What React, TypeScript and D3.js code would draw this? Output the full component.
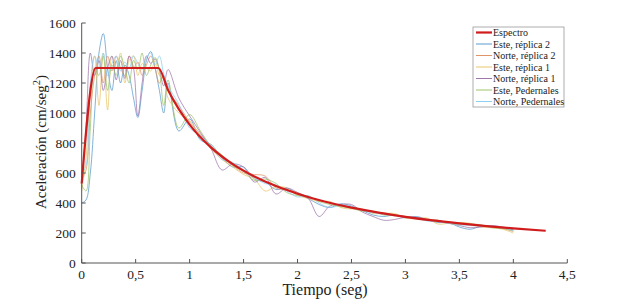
import React from "react";
import * as d3 from "d3";

const T = [0,0.04,0.08,0.12,0.16,0.20,0.24,0.28,0.32,0.36,0.40,0.44,0.48,0.52,0.56,0.60,0.64,0.68,0.72,0.76,0.80,
  0.9,1.0,1.1,1.2,1.3,1.4,1.5,1.6,1.7,1.8,1.9,2.0,2.1,2.2,2.3,2.4,2.5,2.6,2.7,2.8,2.9,3.0,3.1,3.2,3.3,3.4,3.5,3.6,3.7,3.8,3.9,4.0];

const esteR2 = [400,420,600,1000,1400,1530,1300,1150,1350,1200,1320,1250,1100,970,1150,1350,1410,1300,1150,1000,1200,
  880,960,820,790,700,640,640,560,540,490,500,460,430,390,370,395,380,350,320,310,320,300,310,290,270,270,240,225,245,240,235,220];
const norteR2 = [560,620,1000,1250,1380,1200,1380,1280,1380,1300,1250,1380,1300,1340,1250,1320,1380,1300,1200,1250,1150,
  1050,940,860,780,700,650,600,590,580,500,490,470,440,420,400,380,370,350,340,335,320,310,300,290,285,270,265,260,250,240,230,210];
const esteR1 = [480,700,1150,1380,1050,1400,1020,1380,1300,1400,1200,1350,1380,1250,1330,1300,1280,1350,1250,1230,1100,
  1000,950,850,760,690,640,590,560,480,510,500,450,430,410,410,370,360,360,330,330,330,300,295,300,260,265,270,265,240,235,225,200];
const norteR1 = [550,900,1400,1250,1350,1150,1300,1380,1220,1350,1230,1380,1300,980,1200,1380,1330,1360,1290,1180,1290,
  1100,980,870,760,620,660,640,540,570,460,500,470,430,310,380,390,390,340,310,285,290,305,305,290,275,265,250,235,240,250,240,225];
const esteP = [520,480,900,1300,1250,1380,1150,1320,1250,1380,1300,1200,1350,1290,1400,1250,1320,1370,1280,1050,1220,
  900,990,880,780,720,650,610,550,560,530,470,450,445,410,390,375,365,345,345,320,320,310,295,285,285,265,255,260,255,235,230,215];
const norteP = [600,650,1200,1380,1300,1400,1250,1330,1380,1280,1340,1300,1380,1330,1290,1370,1400,1320,1380,1260,1180,
  1060,900,850,780,690,670,620,570,530,520,480,440,450,400,370,385,375,350,335,325,315,310,300,280,275,265,255,250,245,245,235,215];

const specT = [0,0.13,0.71,0.8,0.9,1.0,1.2,1.4,1.6,1.8,2.0,2.25,2.5,2.75,3.0,3.25,3.5,3.75,4.0,4.3];
const specV = [530,1300,1300,1154,1026,923,769,659,577,513,462,410,369,336,308,284,264,246,231,215];

const seriesNames = ["Este, réplica 2","Norte, réplica 2","Este, réplica 1","Norte, réplica 1","Este, Pedernales","Norte, Pedernales"];
const seriesVals = [esteR2, norteR2, esteR1, norteR1, esteP, norteP];
const seriesColors = ["#5a9bcc","#e0946a","#e8c66a","#a077ad","#9cc46c","#8fd0ee"];

const xTicks = [0,0.5,1,1.5,2,2.5,3,3.5,4,4.5];
const yTicks = [0,200,400,600,800,1000,1200,1400,1600];

export default function App() {
  const W = 627, H = 302;
  const x = d3.scaleLinear().domain([0, 4.5]).range([81.7, 567.3]);
  const y = d3.scaleLinear().domain([0, 1600]).range([263, 23]);
  const line = d3.line<[number, number]>().x(d => x(d[0])).y(d => y(d[1])).curve(d3.curveCatmullRom.alpha(0.5));
  const specLine = d3.line<[number, number]>().x(d => x(d[0])).y(d => y(d[1])).curve(d3.curveMonotoneX);
  const fmt = (v: number) => String(v).replace(".", ",");
  const axisColor = "#555";
  const font = "'Liberation Serif', 'Times New Roman', serif";
  const legX = 473, legY = 27, legW = 91, legH = 80, rowH = 11.5;
  const legItems = [{ name: "Espectro", color: "#d01c1c", w: 2.2 }, ...seriesNames.map((n, i) => ({ name: n, color: seriesColors[i], w: 1 }))];
  return (
    <svg width={W} height={H} style={{ position: "absolute", left: 0, top: 0, background: "#fff" }} fontFamily={font}>
      <rect width={W} height={H} fill="#fff" />
      {seriesVals.map((vals, i) => (
        <path key={i} d={line(T.map((t, j) => [t, vals[j]] as [number, number])) || ""} fill="none" stroke={seriesColors[i]} strokeWidth={0.9} strokeOpacity={0.85} />
      ))}
      <path d={specLine(specT.map((t, j) => [t, specV[j]] as [number, number])) || ""} fill="none" stroke="#d01c1c" strokeWidth={2.2} />
      <line x1={x(0)} x2={x(0)} y1={y(1600)} y2={y(0)} stroke={axisColor} strokeWidth={1} />
      <line x1={x(0)} x2={x(4.5)} y1={y(0)} y2={y(0)} stroke={axisColor} strokeWidth={1} />
      {xTicks.map(t => (
        <g key={"x" + t}>
          <line x1={x(t)} x2={x(t)} y1={y(0)} y2={y(0) - 4} stroke={axisColor} />
          <text x={x(t)} y={y(0) + 16} textAnchor="middle" fontSize={13.5} fill="#222">{fmt(t)}</text>
        </g>
      ))}
      {yTicks.map(t => (
        <g key={"y" + t}>
          <line x1={x(0)} x2={x(0) + 4} y1={y(t)} y2={y(t)} stroke={axisColor} />
          <text x={x(0) - 6} y={y(t) + 4.5} textAnchor="end" fontSize={13.5} fill="#222">{t}</text>
        </g>
      ))}
      <text x={325} y={295} textAnchor="middle" fontSize={16} fill="#222">Tiempo (seg)</text>
      <text transform={`translate(45.5,142) rotate(-90)`} textAnchor="middle" fontSize={15} fill="#222">
        Aceleración (cm/seg<tspan dy={-6} fontSize={10.5}>2</tspan><tspan dy={6}>)</tspan>
      </text>
      <rect x={legX} y={legY} width={legW} height={legH} fill="#fff" stroke="#999" strokeWidth={0.8} />
      {legItems.map((it, i) => (
        <g key={it.name}>
          <line x1={legX + 3} x2={legX + 19} y1={legY + 5.5 + i * rowH} y2={legY + 5.5 + i * rowH} stroke={it.color} strokeWidth={it.w} />
          <text x={legX + 20} y={legY + 9 + i * rowH} fontSize={10} fill="#222">{it.name}</text>
        </g>
      ))}
    </svg>
  );
}
